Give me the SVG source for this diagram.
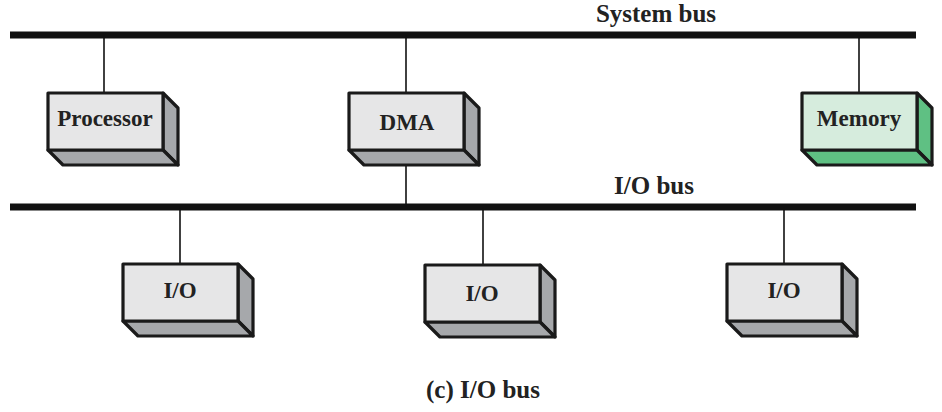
<svg xmlns="http://www.w3.org/2000/svg" width="942" height="412" viewBox="0 0 942 412">
<style>
.bus{stroke:#111;stroke-width:7;fill:none}
.wire{stroke:#111;stroke-width:1.6;fill:none}
.front{fill:#e6e6e7;stroke:#1a1a1a;stroke-width:3.2;stroke-linejoin:round}
.side{fill:#a6a8ab;stroke:#1a1a1a;stroke-width:3.2;stroke-linejoin:round}
.mfront{fill:#d6ecdd;stroke:#1a1a1a;stroke-width:3.2;stroke-linejoin:round}
.mside{fill:#5fc083;stroke:#1a1a1a;stroke-width:3.2;stroke-linejoin:round}
text{font-family:"Liberation Serif","Times New Roman",serif;font-weight:bold;fill:#222;text-anchor:middle}
.lbl{font-size:23px}
.bl{font-size:25px}
</style>
<defs>
<g id="box">
<path class="side" d="M115,0 L130,15 L130,72 L115,57 Z"/>
<path class="side" d="M0,57 L15,72 L130,72 L115,57 Z"/>
<rect class="front" x="0" y="0" width="115" height="57"/>
</g>
</defs>
<g id="connectors">
<line class="bus" x1="10" y1="35" x2="916" y2="35"/>
<line class="bus" x1="10" y1="207" x2="916" y2="207"/>
<line class="wire" x1="104" y1="35" x2="104" y2="93"/>
<line class="wire" x1="406" y1="35" x2="406" y2="93"/>
<line class="wire" x1="406" y1="150" x2="406" y2="207"/>
<line class="wire" x1="859" y1="35" x2="859" y2="93"/>
<line class="wire" x1="180" y1="207" x2="180" y2="264"/>
<line class="wire" x1="483" y1="207" x2="483" y2="265"/>
<line class="wire" x1="784" y1="207" x2="784" y2="264"/>
</g>
<g id="system-bus-label"><text class="bl" x="656" y="22">System bus</text></g>
<g id="io-bus-label"><text class="bl" x="654" y="194">I/O bus</text></g>
<g id="processor">
<use href="#box" x="48" y="93"/>
<text class="lbl" x="105" y="126">Processor</text>
</g>
<g id="dma">
<use href="#box" x="349" y="93"/>
<text class="lbl" x="407" y="130">DMA</text>
</g>
<g id="memory">
<path class="mside" d="M917,93 L932,108 L932,165 L917,150 Z"/>
<path class="mside" d="M802,150 L817,165 L932,165 L917,150 Z"/>
<rect class="mfront" x="802" y="93" width="115" height="57"/>
<text class="lbl" x="859" y="126">Memory</text>
</g>
<g id="io1">
<use href="#box" x="123" y="264"/>
<text class="lbl" x="180" y="298">I/O</text>
</g>
<g id="io2">
<use href="#box" x="425" y="265"/>
<text class="lbl" x="482" y="301">I/O</text>
</g>
<g id="io3">
<use href="#box" x="727" y="264"/>
<text class="lbl" x="784" y="298">I/O</text>
</g>
<g id="caption"><text class="bl" x="483" y="398">(c) I/O bus</text></g>
</svg>
